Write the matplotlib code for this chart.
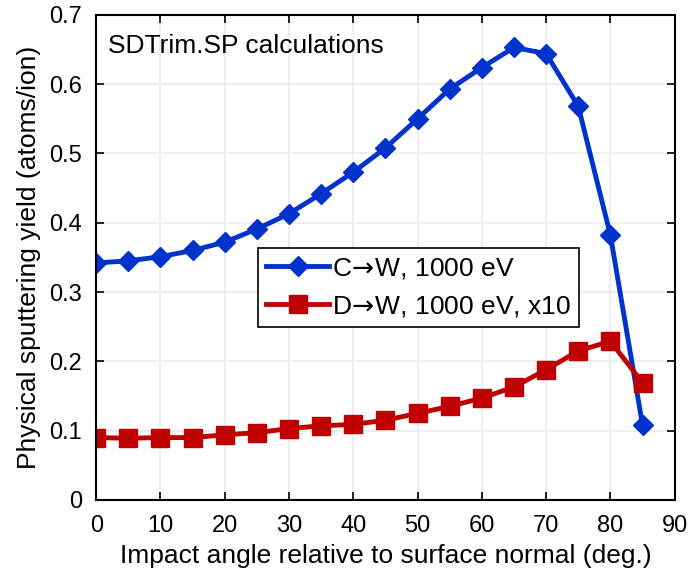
import matplotlib.pyplot as plt

plt.rcParams["font.family"] = ["Liberation Sans", "DejaVu Sans"]
plt.rcParams["mathtext.fontset"] = "dejavusans"

angles = [0, 5, 10, 15, 20, 25, 30, 35, 40, 45, 50, 55, 60, 65, 70, 75, 80, 85]
yield_c_w = [0.342, 0.345, 0.351, 0.360, 0.372, 0.391, 0.413, 0.442, 0.473, 0.508,
             0.550, 0.593, 0.624, 0.653, 0.644, 0.568, 0.382, 0.108]
yield_d_w_x10 = [0.090, 0.089, 0.090, 0.090, 0.094, 0.097, 0.103, 0.107, 0.109, 0.115,
                 0.125, 0.135, 0.147, 0.163, 0.188, 0.215, 0.229, 0.169]

fig = plt.figure(figsize=(6.92, 5.72), dpi=100)
ax = fig.add_axes([0.139, 0.126, 0.836, 0.848])

ax.plot(angles, yield_c_w, color="#0033cc", linewidth=3.5, marker="D",
        markersize=10.5, label=r"C$\!\rightarrow\!$W, 1000 eV")
ax.plot(angles, yield_d_w_x10, color="#c00000", linewidth=3.5, marker="s",
        markersize=12.5, label=r"D$\!\rightarrow\!$W, 1000 eV, x10")

ax.set_xlim(0, 90)
ax.set_ylim(0, 0.7)
ax.set_xticks(range(0, 91, 10))
ax.set_yticks([0, 0.1, 0.2, 0.3, 0.4, 0.5, 0.6, 0.7])
ax.set_yticklabels(["0", "0.1", "0.2", "0.3", "0.4", "0.5", "0.6", "0.7"])
ax.grid(True, color="#ebebeb", linewidth=1.2)
ax.set_axisbelow(True)
ax.tick_params(direction="in", top=True, right=True, labelsize=17, length=6,
               width=1.2)
ax.tick_params(axis="x", pad=11)
ax.tick_params(axis="y", pad=10)
for spine in ax.spines.values():
    spine.set_linewidth(1.5)

ax.set_xlabel("Impact angle relative to surface normal (deg.)", fontsize=19, labelpad=5)
ax.set_ylabel("Physical sputtering yield (atoms/ion)", fontsize=19, labelpad=6)

ax.text(0.02, 0.96, "SDTrim.SP calculations", transform=ax.transAxes,
        fontsize=19, va="top", ha="left")

leg = ax.legend(loc="upper left", bbox_to_anchor=(0.28, 0.52), fontsize=19,
                frameon=True, fancybox=False, edgecolor="black", framealpha=1,
                borderpad=0.3, handlelength=2.4, handletextpad=0.1,
                labelspacing=0.5, borderaxespad=0)
leg.get_frame().set_linewidth(1.2)

fig.savefig("out.png", dpi=100)
